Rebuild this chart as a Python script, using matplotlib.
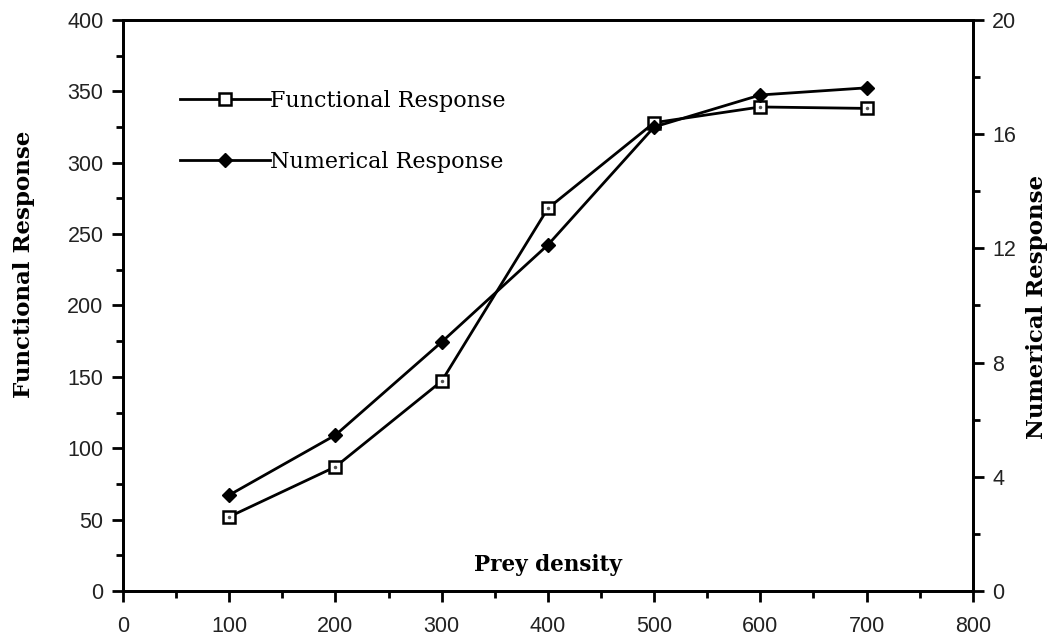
import matplotlib.pyplot as plt
from matplotlib.ticker import MultipleLocator
from matplotlib.lines import Line2D

prey_density = [100, 200, 300, 400, 500, 600, 700]
functional = [52, 87, 147, 268, 328, 339, 338]
numerical = [3.36, 5.46, 8.72, 12.12, 16.25, 17.37, 17.62]

tick_font = {'family': 'Liberation Sans', 'size': 15.5, 'color': '#222222'}
label_font = {'family': 'DejaVu Serif', 'weight': 'bold', 'size': 16.5}

fig = plt.figure(figsize=(10.54, 6.41), dpi=100)
ax = fig.add_axes([0.1167, 0.078, 0.8063, 0.891])
ax2 = ax.twinx()

ax.plot(prey_density, functional, color='black', lw=2, marker='s', ms=8,
        mfc='white', mec='black', mew=1.8, zorder=3)
ax.plot(prey_density, functional, ls='none', marker='.', ms=3, color='#555555', zorder=4)
ax2.plot(prey_density, numerical, color='black', lw=2, marker='D', ms=7,
         mfc='black', mec='black', zorder=3)

ax.set_xlim(0, 800)
ax.set_ylim(0, 400)
ax2.set_ylim(0, 20)

ax.xaxis.set_major_locator(MultipleLocator(100))
ax.xaxis.set_minor_locator(MultipleLocator(50))
ax.yaxis.set_major_locator(MultipleLocator(50))
ax.yaxis.set_minor_locator(MultipleLocator(25))
ax2.yaxis.set_major_locator(MultipleLocator(4))
ax2.yaxis.set_minor_locator(MultipleLocator(2))

for a in (ax, ax2):
    for s in a.spines.values():
        s.set_linewidth(2)
    a.tick_params(which='major', direction='out', length=8, width=2)
    a.tick_params(which='minor', direction='out', length=5, width=2)

ax.tick_params(axis='x', pad=10)
ax.tick_params(axis='y', pad=6)
ax2.tick_params(axis='y', pad=6)

for lbl in ax.get_xticklabels() + ax.get_yticklabels() + ax2.get_yticklabels():
    lbl.set_fontfamily(tick_font['family'])
    lbl.set_fontsize(tick_font['size'])
    lbl.set_color(tick_font['color'])

ax.text(0.5, 0.045, 'Prey density', transform=ax.transAxes, ha='center',
        va='center', family='DejaVu Serif', weight='bold', size=15.5)
fig.text(0.023, 0.588, 'Functional Response', rotation=90, ha='center',
         va='center', **label_font)
fig.text(0.984, 0.521, 'Numerical Response', rotation=90, ha='center',
         va='center', **label_font)

handles = [
    Line2D([], [], color='black', lw=2, marker='s', ms=8, mfc='white', mec='black', mew=1.8),
    Line2D([], [], color='black', lw=2, marker='D', ms=7, mfc='black'),
]
ax.legend(handles, ['Functional Response', 'Numerical Response'],
          loc='upper left', bbox_to_anchor=(0.067, 0.878), frameon=False,
          prop={'family': 'DejaVu Serif', 'size': 16}, borderpad=0, borderaxespad=0,
          handlelength=4.05, handletextpad=0.0, labelspacing=1.76, numpoints=1)

fig.savefig('out.png', dpi=100)
